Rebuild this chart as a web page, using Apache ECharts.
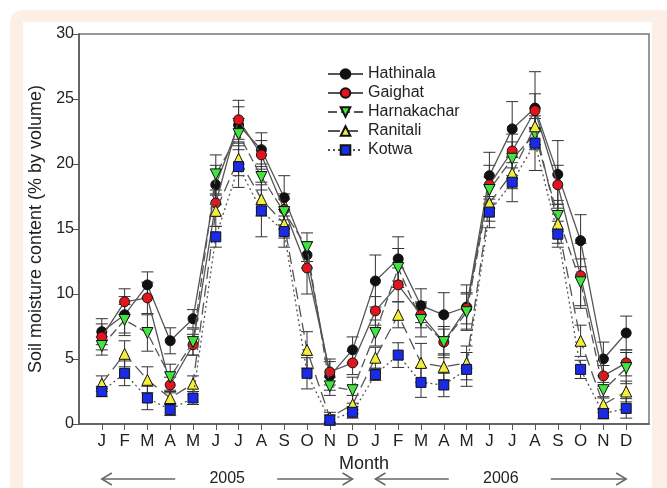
<!DOCTYPE html>
<html>
<head>
<meta charset="utf-8">
<script src="https://cdn.jsdelivr.net/npm/echarts@6/dist/echarts.min.js"></script>
<style>
  body { margin: 0; background: #fff; }
  .frame { position: absolute; left: 10px; top: 10px; width: 657px; height: 478px; background: #fcefe6; border-radius: 12px 0 0 0; }
  .inner { position: absolute; left: 23px; top: 22px; width: 629px; height: 466px; background: #fff; }
  #chart { position: absolute; left: 0; top: 0; width: 667px; height: 488px; }
</style>
</head>
<body>
<div class="frame"></div>
<div class="inner"></div>
<div id="chart"></div>
<script>
// month letters, two years
const months = ['J','F','M','A','M','J','J','A','S','O','N','D','J','F','M','A','M','J','J','A','S','O','N','D']
const years = ['2005', '2006']

// soil moisture (% by volume) and error (±)
const hathinala    = [7.1, 8.4, 10.7, 6.4, 8.1, 18.4, 23.0, 21.1, 17.4, 13.0, 3.7, 5.7, 11.0, 12.7, 9.1, 8.4, 9.0, 19.1, 22.7, 24.3, 19.2, 14.1, 5.0, 7.0]
const hathinalaErr = [1.0, 1.4, 1.0, 1.0, 0.7, 1.5, 1.4, 1.3, 1.7, 1.0, 1.1, 1.0, 2.0, 1.7, 1.3, 1.7, 1.7, 1.8, 2.1, 2.8, 2.6, 2.0, 1.3, 1.3]
const gaighat      = [6.7, 9.4, 9.7, 3.0, 6.1, 17.0, 23.4, 20.7, 16.5, 12.0, 4.0, 4.7, 8.7, 10.7, 8.4, 6.3, 8.9, 18.4, 21.0, 24.1, 18.4, 11.4, 3.7, 4.7]
const gaighatErr   = [1.0, 1.0, 1.2, 0.6, 0.8, 1.0, 1.5, 1.1, 1.2, 2.0, 1.0, 0.9, 1.1, 1.3, 1.0, 1.0, 1.2, 1.5, 1.3, 1.3, 1.5, 2.5, 0.8, 1.0]
const harnakachar    = [6.0, 8.0, 7.0, 3.6, 6.3, 19.2, 22.3, 19.0, 16.3, 13.6, 2.9, 2.6, 7.0, 12.0, 8.0, 6.3, 8.6, 18.0, 20.4, 22.3, 16.0, 10.9, 2.6, 4.3]
const harnakacharErr = [0.7, 1.2, 1.4, 1.0, 1.0, 1.5, 1.2, 1.0, 1.0, 1.1, 0.7, 1.0, 1.0, 1.5, 1.3, 1.2, 1.4, 1.0, 1.3, 1.2, 1.2, 1.8, 0.6, 1.2]
const ranitali     = [3.1, 5.4, 3.4, 2.0, 3.1, 16.4, 20.4, 17.3, 15.4, 5.7, 0.5, 1.5, 5.1, 8.4, 4.7, 4.4, 4.7, 17.0, 19.3, 22.9, 15.4, 6.4, 1.5, 2.5]
const ranitaliErr  = [0.6, 1.0, 1.0, 0.5, 0.6, 1.2, 1.3, 1.3, 1.1, 1.4, 0.4, 0.7, 0.8, 1.0, 1.5, 1.0, 1.3, 1.4, 1.2, 1.4, 1.5, 1.2, 0.6, 0.8]
const kotwa        = [2.5, 3.9, 2.0, 1.1, 2.0, 14.4, 19.8, 16.4, 14.8, 3.9, 0.3, 0.9, 3.8, 5.3, 3.2, 3.0, 4.2, 16.3, 18.6, 21.6, 14.6, 4.2, 0.8, 1.2]
const kotwaErr     = [0.4, 0.95, 0.9, 0.45, 0.5, 0.8, 1.6, 2.0, 1.2, 1.2, 0.4, 0.45, 0.45, 0.95, 1.15, 0.9, 1.3, 1.2, 1.5, 2.1, 1.0, 0.7, 0.4, 0.75]

const font = '"Liberation Sans", Arial, sans-serif'
const lineColor = '#555'

const sites = [
  { name: 'Hathinala', data: hathinala, err: hathinalaErr, color: '#111111', symbol: 'circle', size: 10, rotate: 0, type: 'solid' },
  { name: 'Gaighat', data: gaighat, err: gaighatErr, color: '#e3141b', symbol: 'circle', size: 10, rotate: 0, type: 'solid' },
  { name: 'Harnakachar', data: harnakachar, err: harnakacharErr, color: '#3ee63e', symbol: 'triangle', size: 11, rotate: 180, type: [9, 4] },
  { name: 'Ranitali', data: ranitali, err: ranitaliErr, color: '#f3ee3c', symbol: 'triangle', size: 11, rotate: 0, type: [12, 6] },
  { name: 'Kotwa', data: kotwa, err: kotwaErr, color: '#1a2be6', symbol: 'rect', size: 10, rotate: 0, type: [2, 3] }
]

const chart = echarts.init(document.getElementById('chart'))

// error bar: vertical line with caps
function renderErr(params, api) {
  const x = api.value(0)
  const top = api.coord([x, api.value(2)])
  const bot = api.coord([x, api.value(1)])
  const h = 6
  const style = { stroke: '#333', lineWidth: 1, fill: null }
  return {
    type: 'group',
    children: [
      { type: 'line', shape: { x1: top[0], y1: top[1], x2: bot[0], y2: bot[1] }, style },
      { type: 'line', shape: { x1: top[0] - h, y1: top[1], x2: top[0] + h, y2: top[1] }, style },
      { type: 'line', shape: { x1: bot[0] - h, y1: bot[1], x2: bot[0] + h, y2: bot[1] }, style }
    ]
  }
}

const series = []
sites.forEach(s => {
  series.push({
    type: 'custom',
    name: s.name + ' err',
    renderItem: renderErr,
    z: 1,
    silent: true,
    data: s.data.map((v, i) => [i + 1, v - s.err[i], v + s.err[i]])
  })
})
sites.forEach((s, k) => {
  series.push({
    type: 'line',
    name: s.name,
    z: 3 + k,
    data: s.data.map((v, i) => [i + 1, v]),
    symbol: s.symbol,
    symbolSize: s.size,
    symbolRotate: s.rotate,
    showAllSymbol: true,
    itemStyle: { color: s.color, borderColor: '#111', borderWidth: 1 },
    lineStyle: { color: lineColor, width: 1.3, type: s.type },
    animation: false
  })
})

const monthTicks = months.map((m, i) => i + 1)

chart.setOption({
  animation: false,
  grid: { left: 79, right: 18, top: 34, bottom: 64, show: true, borderColor: '#777', borderWidth: 1.5 },
  legend: {
    data: sites.map(s => s.name),
    orient: 'vertical',
    left: 322,
    top: 61,
    itemWidth: 35,
    itemHeight: 12,
    itemGap: 3,
    selectedMode: false,
    textStyle: { fontFamily: font, fontSize: 16, color: '#222', lineHeight: 16 }
  },
  xAxis: {
    type: 'value',
    min: 0,
    max: 25,
    name: 'Month',
    nameLocation: 'middle',
    nameGap: 22,
    nameTextStyle: { fontFamily: font, fontSize: 18, color: '#222' },
    axisLine: { lineStyle: { color: '#555', width: 1.5 } },
    axisTick: { customValues: monthTicks, length: 6, lineStyle: { color: '#555' } },
    axisLabel: {
      customValues: monthTicks,
      formatter: v => months[v - 1] || '',
      fontFamily: font, fontSize: 17, color: '#222', margin: 9
    },
    splitLine: { show: false }
  },
  yAxis: {
    type: 'value',
    min: 0,
    max: 30,
    interval: 5,
    name: 'Soil moisture content (% by volume)',
    nameLocation: 'middle',
    nameGap: 27,
    nameTextStyle: { fontFamily: font, fontSize: 18, color: '#222' },
    axisLine: { show: true, lineStyle: { color: '#555', width: 1.5 } },
    axisTick: { show: true, length: 6, lineStyle: { color: '#555' } },
    axisLabel: { fontFamily: font, fontSize: 16, color: '#222', margin: 5 },
    splitLine: { show: false }
  },
  series
})

// year spans with arrows under the axis
const graphic = []
const ay = 479
years.forEach((yr, k) => {
  const x0 = chart.convertToPixel({ xAxisIndex: 0 }, k * 12 + 1)
  const x1 = chart.convertToPixel({ xAxisIndex: 0 }, k * 12 + 12)
  const cx = (x0 + x1) / 2
  const st = { stroke: '#666', lineWidth: 1.5, fill: null }
  graphic.push(
    { type: 'polyline', shape: { points: [[x0, ay], [cx - 52, ay]] }, style: st },
    { type: 'polyline', shape: { points: [[x0 + 10, ay - 6], [x0, ay], [x0 + 10, ay + 6]] }, style: st },
    { type: 'polyline', shape: { points: [[cx + 50, ay], [x1, ay]] }, style: st },
    { type: 'polyline', shape: { points: [[x1 - 10, ay - 6], [x1, ay], [x1 - 10, ay + 6]] }, style: st },
    { type: 'text', x: cx, y: ay, style: { text: yr, fontFamily: font, fontSize: 16, fill: '#222', align: 'center', verticalAlign: 'middle' } }
  )
})
chart.setOption({ graphic })
</script>
</body>
</html>
